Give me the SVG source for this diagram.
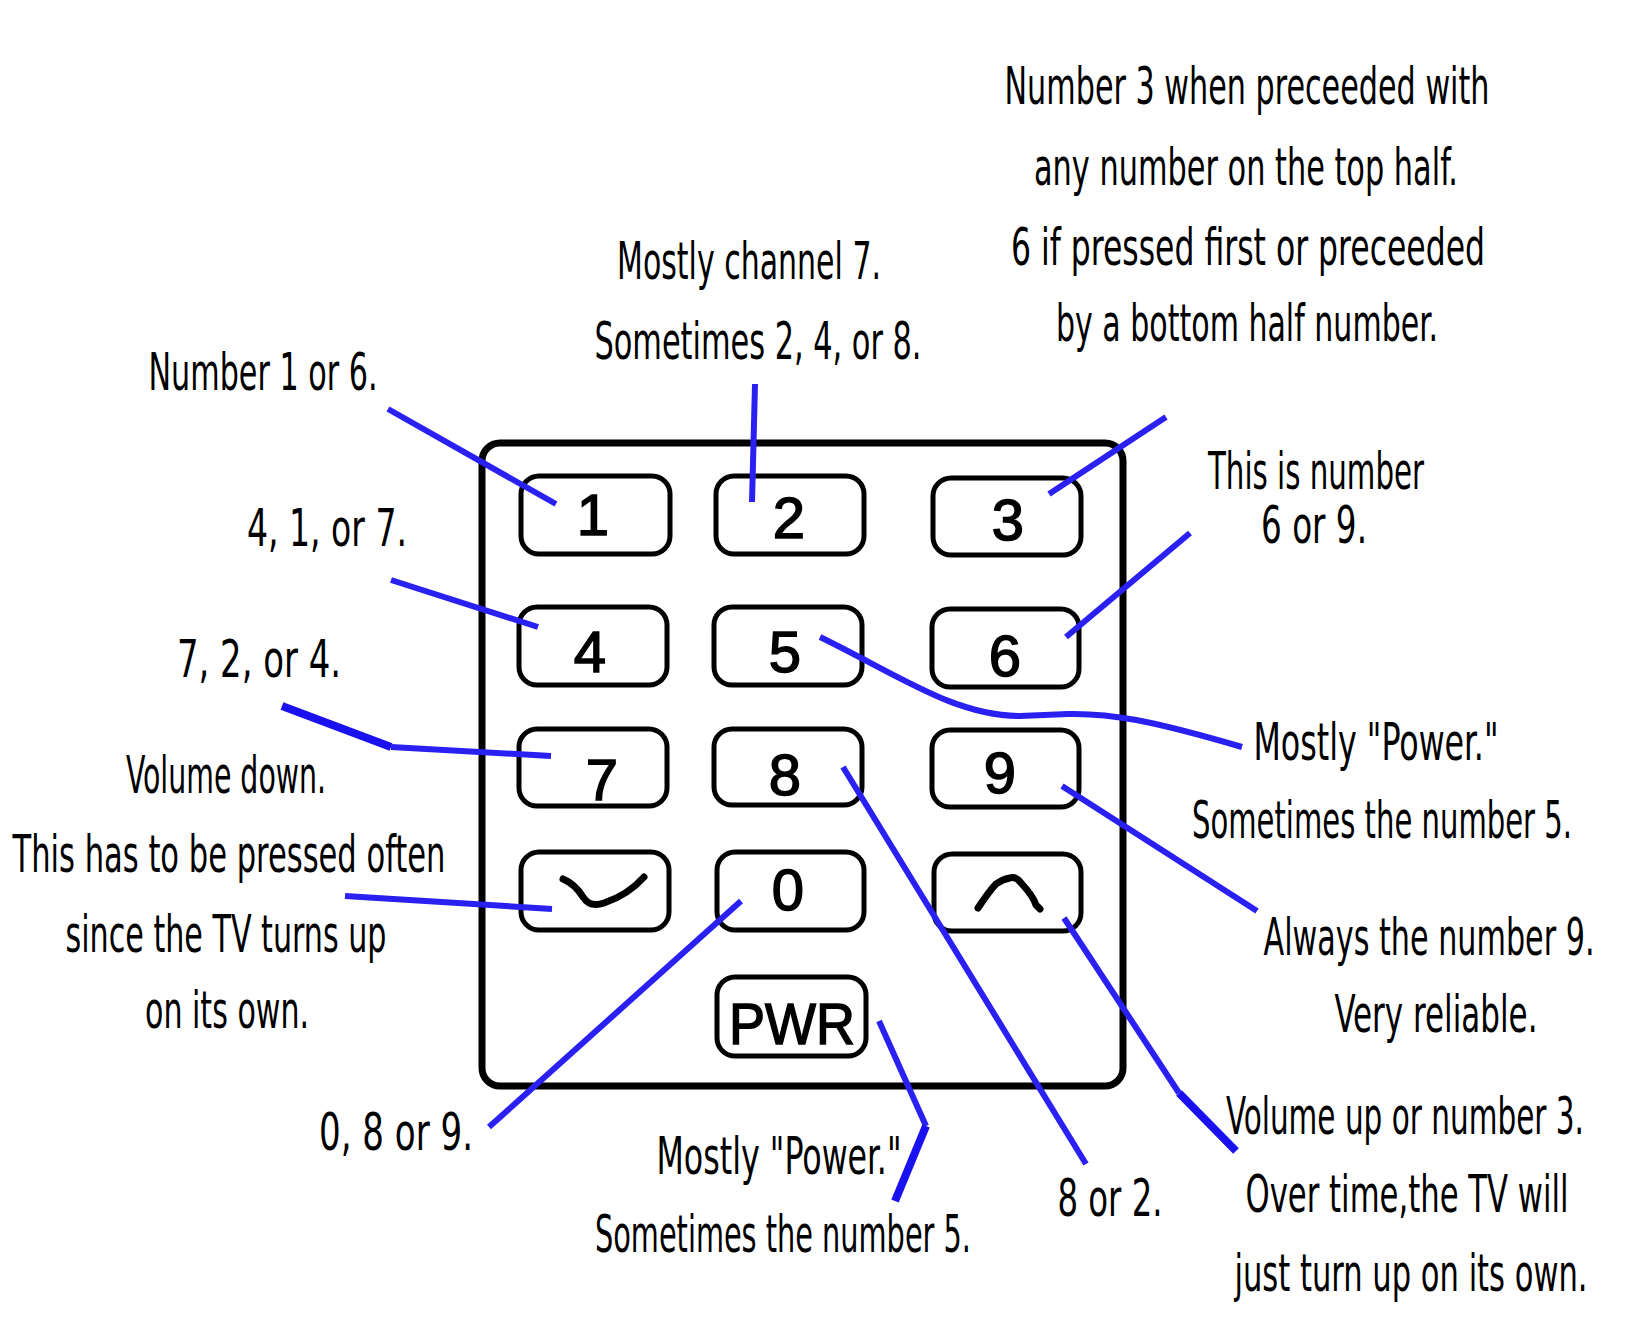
<svg xmlns="http://www.w3.org/2000/svg" width="1632" height="1320" viewBox="0 0 1632 1320">
<style>
.bg{fill:#ffffff}
.remote{fill:#ffffff;stroke:#000;stroke-width:7}
.btn{fill:#ffffff;stroke:#000;stroke-width:5}
.dig{font-family:"Liberation Sans",Arial,sans-serif;font-weight:normal;font-size:58px;text-anchor:middle;fill:#000;stroke:#000;stroke-width:1.5}
.sym{fill:none;stroke:#000;stroke-width:7;stroke-linecap:round;stroke-linejoin:round}
.lbl{font-family:"Liberation Sans Narrow","DejaVu Sans Condensed","Liberation Sans",sans-serif;font-size:52px;text-anchor:middle;fill:#000}
.con{fill:none;stroke:#2a20f2;stroke-width:6;stroke-linejoin:round}
.conb{fill:none;stroke:#1a10f0;stroke-width:8;stroke-linejoin:round}
</style>
<rect class="bg" x="0" y="0" width="1632" height="1320"/>
<g id="remote">
<rect class="remote" x="482" y="443" width="641" height="643" rx="18"/>
</g>
<g id="btn-1"><rect class="btn" x="521" y="476" width="149" height="78" rx="18"/><text class="dig" x="593" y="535">1</text></g>
<g id="btn-2"><rect class="btn" x="716" y="476" width="148" height="78" rx="18"/><text class="dig" x="789" y="538">2</text></g>
<g id="btn-3"><rect class="btn" x="933" y="478" width="148" height="77" rx="18"/><text class="dig" x="1008" y="540">3</text></g>
<g id="btn-4"><rect class="btn" x="519" y="607" width="148" height="78" rx="18"/><text class="dig" x="590" y="672">4</text></g>
<g id="btn-5"><rect class="btn" x="714" y="607" width="148" height="78" rx="18"/><text class="dig" x="785" y="672">5</text></g>
<g id="btn-6"><rect class="btn" x="932" y="609" width="147" height="78" rx="18"/><text class="dig" x="1005" y="676">6</text></g>
<g id="btn-7"><rect class="btn" x="519" y="729" width="148" height="77" rx="18"/><text class="dig" x="602" y="800" font-size="64">7</text></g>
<g id="btn-8"><rect class="btn" x="714" y="729" width="148" height="76" rx="18"/><text class="dig" x="785" y="795">8</text></g>
<g id="btn-9"><rect class="btn" x="932" y="730" width="147" height="77" rx="18"/><text class="dig" x="1000" y="793">9</text></g>
<g id="btn-voldown"><rect class="btn" x="521" y="852" width="148" height="78" rx="18"/><path class="sym" d="M563,879 Q575,884 583,897 Q590,908 604,903 Q628,895 644,877"/></g>
<g id="btn-0"><rect class="btn" x="717" y="852" width="147" height="78" rx="18"/><text class="dig" x="788" y="910">0</text></g>
<g id="btn-volup"><rect class="btn" x="934" y="854" width="147" height="77" rx="18"/><path class="sym" d="M978,908 Q990,890 996,884 Q1003,879 1010,878 Q1016,876 1022,884 Q1033,896 1036,905 L1040,909"/></g>
<g id="btn-pwr"><rect class="btn" x="717" y="977" width="149" height="79" rx="18"/><text class="dig" x="792" y="1044" font-size="64" font-weight="bold" stroke-width="0" textLength="126" lengthAdjust="spacingAndGlyphs">PWR</text></g>

<g id="connectors">
<path class="con" d="M388,409 L556,504"/>
<path class="con" d="M755,384 L752,502"/>
<path class="con" d="M1166,417 L1049,494"/>
<path class="con" d="M1190,533 L1066,637"/>
<path class="con" d="M391,580 L538,627"/>
<path class="conb" d="M282,706 L391,747"/>
<path class="con" d="M391,747 L551,756"/>
<path class="con" d="M345,896 L552,909"/>
<path class="con" d="M489,1127 L741,901"/>
<path class="con" d="M879,1021 L926,1126"/>
<path class="conb" d="M926,1126 L895,1201"/>
<path class="con" d="M1086,1164 L843,767"/>
<path class="con" d="M1064,918 L1179,1093"/>
<path class="conb" d="M1179,1093 L1236,1151"/>
<path class="con" d="M1257,911 L1062,786"/>
<path class="con" d="M820,637 C900,676 955,716 1020,716 L1068,714 C1110,713 1150,720 1242,747"/>
</g>

<g id="label-1"><text class="lbl" x="263" y="390" textLength="229" lengthAdjust="spacingAndGlyphs">Number 1 or 6.</text></g>
<g id="label-2">
<text class="lbl" x="749" y="279" textLength="264" lengthAdjust="spacingAndGlyphs">Mostly channel 7.</text>
<text class="lbl" x="758" y="359" textLength="327" lengthAdjust="spacingAndGlyphs">Sometimes 2, 4, or 8.</text>
</g>
<g id="label-3">
<text class="lbl" x="1247" y="104" textLength="485" lengthAdjust="spacingAndGlyphs">Number 3 when preceeded with</text>
<text class="lbl" x="1246" y="185" textLength="424" lengthAdjust="spacingAndGlyphs">any number on the top half.</text>
<text class="lbl" x="1248" y="265" textLength="474" lengthAdjust="spacingAndGlyphs">6 if pressed first or preceeded</text>
<text class="lbl" x="1247" y="341" textLength="382" lengthAdjust="spacingAndGlyphs">by a bottom half number.</text>
</g>
<g id="label-6">
<text class="lbl" x="1316" y="489" textLength="216" lengthAdjust="spacingAndGlyphs">This is number</text>
<text class="lbl" x="1314" y="543" textLength="106" lengthAdjust="spacingAndGlyphs">6 or 9.</text>
</g>
<g id="label-4"><text class="lbl" x="327" y="546" textLength="160" lengthAdjust="spacingAndGlyphs">4, 1, or 7.</text></g>
<g id="label-7"><text class="lbl" x="259" y="677" textLength="164" lengthAdjust="spacingAndGlyphs">7, 2, or 4.</text></g>
<g id="label-voldown">
<text class="lbl" x="226" y="793" textLength="200" lengthAdjust="spacingAndGlyphs">Volume down.</text>
<text class="lbl" x="229" y="872" textLength="433" lengthAdjust="spacingAndGlyphs">This has to be pressed often</text>
<text class="lbl" x="226" y="952" textLength="321" lengthAdjust="spacingAndGlyphs">since the TV turns up</text>
<text class="lbl" x="227" y="1028" textLength="164" lengthAdjust="spacingAndGlyphs">on its own.</text>
</g>
<g id="label-5">
<text class="lbl" x="1376" y="760" textLength="245" lengthAdjust="spacingAndGlyphs">Mostly "Power."</text>
<text class="lbl" x="1382" y="838" textLength="380" lengthAdjust="spacingAndGlyphs">Sometimes the number 5.</text>
</g>
<g id="label-9">
<text class="lbl" x="1429" y="955" textLength="331" lengthAdjust="spacingAndGlyphs">Always the number 9.</text>
<text class="lbl" x="1436" y="1032" textLength="203" lengthAdjust="spacingAndGlyphs">Very reliable.</text>
</g>
<g id="label-volup">
<text class="lbl" x="1405" y="1134" textLength="358" lengthAdjust="spacingAndGlyphs">Volume up or number 3.</text>
<text class="lbl" x="1407" y="1212" textLength="323" lengthAdjust="spacingAndGlyphs">Over time,the TV will</text>
<text class="lbl" x="1411" y="1291" textLength="353" lengthAdjust="spacingAndGlyphs">just turn up on its own.</text>
</g>
<g id="label-0"><text class="lbl" x="396" y="1150" textLength="154" lengthAdjust="spacingAndGlyphs">0, 8 or 9.</text></g>
<g id="label-pwr">
<text class="lbl" x="779" y="1174" textLength="245" lengthAdjust="spacingAndGlyphs">Mostly "Power."</text>
<text class="lbl" x="783" y="1252" textLength="376" lengthAdjust="spacingAndGlyphs">Sometimes the number 5.</text>
</g>
<g id="label-8"><text class="lbl" x="1110" y="1216" textLength="105" lengthAdjust="spacingAndGlyphs">8 or 2.</text></g>
</svg>
